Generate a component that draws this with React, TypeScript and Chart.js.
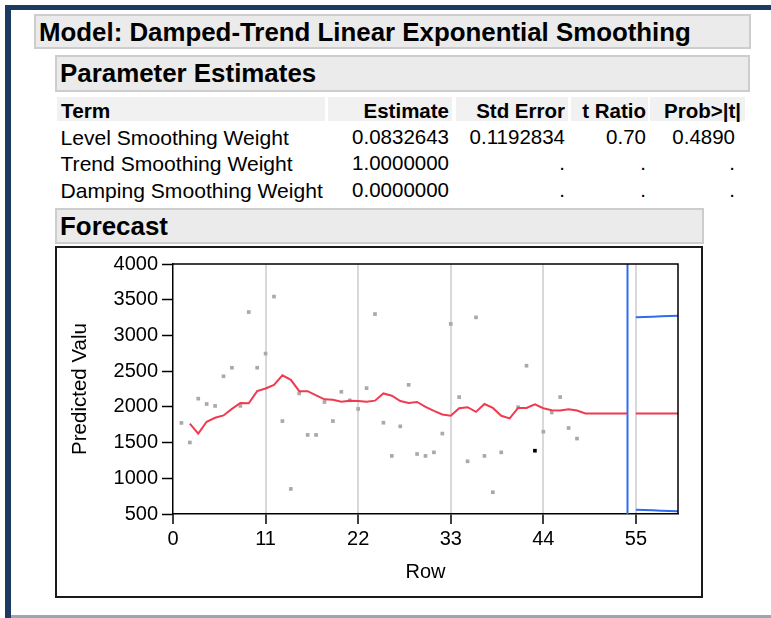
import React, { useEffect, useRef } from 'react';
import { Chart, registerables } from 'chart.js';

Chart.register(...registerables);

const FONT = '"Liberation Sans", Arial, Helvetica, sans-serif';

// ---- data ----
const modelTitle = 'Model: Damped-Trend Linear Exponential Smoothing';
const tableHeaders = ['Term', 'Estimate', 'Std Error', 't Ratio', 'Prob>|t|'];
const termNames = ['Level Smoothing Weight', 'Trend Smoothing Weight', 'Damping Smoothing Weight'];
const estimates = ['0.0832643', '1.0000000', '0.0000000'];
const stdErrors = ['0.1192834', '.', '.'];
const tRatios = ['0.70', '.', '.'];
const probs = ['0.4890', '.', '.'];

const observedStartRow = 1;
const observed: (number | null)[] = [
  1775, 1501, 2115, 2040, 2013, 2428, 2548, 2013, 3327, 2548,
  2746, 3544, 1801, 851, 2188, 1607, 1607, 2068, 1801, 2211,
  2091, 1971, 2262, 3299, 1778, 1313, 1727, 2308, 1340, 1313,
  1363, 1626, 3161, 2137, 1238, 3253, 1313, 805, 1363, null,
  1995, 2576, 1386, 1653, 1921, 2137, 1704, 1556,
];
const highlightedRow = 43;

const predictedStartRow = 2;
const predicted = [
  1764, 1626, 1791, 1847, 1880, 1971, 2054, 2050, 2220, 2257,
  2308, 2442, 2378, 2220, 2220, 2161, 2105, 2100, 2073, 2087,
  2082, 2073, 2087, 2188, 2156, 2082, 2054, 2068, 1999, 1944,
  1893, 1875, 1981, 1995, 1930, 2040, 1985, 1875, 1838, 1985,
  1985, 2036, 1981, 1953, 1949, 1967, 1949, 1907, 1907, 1907,
  1907, 1907, 1907,
];

const forecastOriginRow = 54;
const forecastStartRow = 55;
const forecast = [1907, 1907, 1907, 1907, 1907, 1907];
const upperLimit = [3255, 3259, 3263, 3267, 3271, 3275];
const lowerLimit = [559, 555, 551, 547, 543, 539];

const xTicks = [0, 11, 22, 33, 44, 55];
const yTicks = [500, 1000, 1500, 2000, 2500, 3000, 3500, 4000];
const xMin = 0;
const xMax = 60;
const yMin = 500;
const yMax = 4000;

const RED = '#ef3a50';
const BLUE = '#2f6cf0';
const GREY_PT = '#a9a9a9';

function toPoints(start: number, values: (number | null)[]) {
  return values
    .map((v, i) => ({ x: start + i, y: v }))
    .filter((p) => p.y !== null) as { x: number; y: number }[];
}

const framePlugin = {
  id: 'frame',
  afterDatasetsDraw(chart: any) {
    const { ctx, chartArea } = chart;
    ctx.save();
    ctx.strokeStyle = '#000';
    ctx.lineWidth = 1.5;
    ctx.beginPath();
    ctx.moveTo(chartArea.left, chartArea.top);
    ctx.lineTo(chartArea.right, chartArea.top);
    ctx.lineTo(chartArea.right, chartArea.bottom);
    ctx.stroke();
    ctx.restore();
  },
};

function ForecastChart() {
  const ref = useRef<HTMLCanvasElement>(null);
  useEffect(() => {
    const canvas = ref.current;
    if (!canvas) return;
    const chart = new Chart(canvas, {
      type: 'scatter',
      data: {
        datasets: [
          {
            label: 'Predicted',
            data: toPoints(predictedStartRow, predicted),
            showLine: true,
            borderColor: RED,
            borderWidth: 2,
            pointRadius: 0,
            tension: 0,
          },
          {
            label: 'Forecast',
            data: toPoints(forecastStartRow, forecast),
            showLine: true,
            borderColor: RED,
            borderWidth: 2,
            pointRadius: 0,
          },
          {
            label: 'Upper',
            data: toPoints(forecastStartRow, upperLimit),
            showLine: true,
            borderColor: BLUE,
            borderWidth: 2,
            pointRadius: 0,
          },
          {
            label: 'Lower',
            data: toPoints(forecastStartRow, lowerLimit),
            showLine: true,
            borderColor: BLUE,
            borderWidth: 2,
            pointRadius: 0,
          },
          {
            label: 'Origin',
            data: [
              { x: forecastOriginRow, y: yMin },
              { x: forecastOriginRow, y: yMax },
            ],
            showLine: true,
            borderColor: BLUE,
            borderWidth: 2,
            pointRadius: 0,
          },
          {
            label: 'Actual',
            data: toPoints(observedStartRow, observed),
            showLine: false,
            pointStyle: 'rect',
            pointRadius: 2.6,
            borderWidth: 0,
            backgroundColor: (c: any) => (c.raw && c.raw.x === highlightedRow ? '#000' : GREY_PT),
            borderColor: (c: any) => (c.raw && c.raw.x === highlightedRow ? '#000' : GREY_PT),
          },
        ],
      },
      options: {
        animation: false,
        responsive: true,
        maintainAspectRatio: false,
        layout: { padding: { left: 0, top: 13, right: 23, bottom: 0 } },
        plugins: {
          legend: { display: false },
          tooltip: { enabled: false },
        },
        scales: {
          x: {
            type: 'linear',
            min: xMin,
            max: xMax,
            afterBuildTicks: (s: any) => {
              s.ticks = xTicks.map((v) => ({ value: v }));
            },
            afterFit: (s: any) => {
              s.height = 82;
            },
            grid: {
              color: (c: any) => (c.tick && c.tick.value === 0 ? 'rgba(0,0,0,0)' : '#d9d9d9'),
              lineWidth: 2,
              tickColor: '#000',
              tickLength: 10,
              tickWidth: 1.5,
            },
            border: { color: '#000', width: 1.5 },
            ticks: {
              color: '#000',
              font: { family: FONT, size: 20 },
              padding: 3,
              maxRotation: 0,
              autoSkip: false,
              callback: (v: any) => String(v),
            },
            title: {
              display: true,
              text: 'Row',
              color: '#000',
              font: { family: FONT, size: 20 },
              padding: { top: 0, bottom: 12 },
            },
          },
          y: {
            type: 'linear',
            min: yMin,
            max: yMax,
            afterBuildTicks: (s: any) => {
              s.ticks = yTicks.map((v) => ({ value: v }));
            },
            afterFit: (s: any) => {
              s.width = 116;
            },
            grid: {
              drawOnChartArea: false,
              color: '#000',
              tickColor: '#000',
              tickLength: 11,
              tickWidth: 1.5,
            },
            border: { color: '#000', width: 1.5 },
            ticks: {
              color: '#000',
              font: { family: FONT, size: 20 },
              padding: 4,
              autoSkip: false,
              callback: (v: any) => String(v),
            },
            title: {
              display: true,
              text: 'Predicted Valu',
              color: '#000',
              font: { family: FONT, size: 20.5 },
              padding: { top: 11, bottom: 0 },
            },
          },
        },
      } as any,
      plugins: [framePlugin],
    });
    return () => chart.destroy();
  }, []);
  return (
    <div style={{ position: 'absolute', left: 57, top: 248, width: 644, height: 348 }}>
      <canvas ref={ref} />
    </div>
  );
}

function Txt(props: {
  text: string;
  left?: number;
  right?: number;
  capY: number;
  size: number;
  bold?: boolean;
}) {
  const { text, left, right, capY, size, bold } = props;
  const style: React.CSSProperties = {
    position: 'absolute',
    top: capY - 0.4885 * size,
    fontSize: size,
    lineHeight: `${size}px`,
    fontWeight: bold ? 700 : 400,
    whiteSpace: 'nowrap',
    fontFamily: FONT,
    color: '#000',
  };
  if (left !== undefined) style.left = left;
  if (right !== undefined) {
    style.right = 771 - right;
    style.textAlign = 'right';
  }
  return <div style={style}>{text}</div>;
}

function Box(props: { left: number; top: number; right: number; bottom: number; bg?: string; border?: string }) {
  const { left, top, right, bottom, bg, border } = props;
  return (
    <div
      style={{
        position: 'absolute',
        left,
        top,
        width: right - left,
        height: bottom - top,
        background: bg || 'transparent',
        border: border || 'none',
        boxSizing: 'border-box',
      }}
    />
  );
}

export default function App() {
  const headCells: [number, number][] = [
    [57, 325],
    [328, 452],
    [456, 568],
    [571, 648],
    [650, 745],
  ];
  const headerRight = [0, 449, 565, 646, 741];
  const valueRight = [0, 449, 565, 646, 735];
  const rowCapY = [137, 163.4, 190];
  const columns = [estimates, stdErrors, tRatios, probs];
  return (
    <div
      style={{
        position: 'absolute',
        left: 0,
        top: 0,
        width: 771,
        height: 618,
        background: '#fff',
        overflow: 'hidden',
        fontFamily: FONT,
      }}
    >
      {/* outer frame */}
      <Box left={5} top={5} right={771} bottom={10} bg="#1d3a60" />
      <Box left={5} top={5} right={11} bottom={618} bg="#1d3a60" />
      <Box left={11} top={615} right={771} bottom={618} bg="#9ba6b5" />

      {/* model title */}
      <Box left={34} top={14} right={751} bottom={49} bg="#ebebeb" border="2px solid #cdcdcd" />
      <Txt text={modelTitle} left={39} capY={32.5} size={25.85} bold />

      {/* parameter estimates */}
      <Box left={55} top={55} right={750} bottom={92} bg="#ebebeb" border="2px solid #cdcdcd" />
      <Txt text="Parameter Estimates" left={60} capY={73.3} size={25.9} bold />

      {headCells.map(([l, r], i) => (
        <Box key={'hc' + i} left={l} top={97} right={r} bottom={121} bg="#f1f1f1" />
      ))}
      {tableHeaders.map((h, i) =>
        i === 0 ? (
          <Txt key={'h' + i} text={h} left={61} capY={110.8} size={20.8} bold />
        ) : (
          <Txt key={'h' + i} text={h} right={headerRight[i]} capY={110.8} size={20.5} bold />
        )
      )}
      {termNames.map((t, r) => (
        <React.Fragment key={'r' + r}>
          <Txt text={t} left={60.5} capY={rowCapY[r]} size={21.1} />
          {columns.map((col, c) => (
            <Txt key={'c' + c} text={col[r]} right={valueRight[c + 1]} capY={rowCapY[r]} size={20.5} />
          ))}
        </React.Fragment>
      ))}

      {/* forecast */}
      <Box left={55} top={208} right={704} bottom={244} bg="#ebebeb" border="2px solid #cdcdcd" />
      <Txt text="Forecast" left={60} capY={226.7} size={25.9} bold />

      <Box left={55} top={246} right={703} bottom={598} border="2px solid #1a1a1a" />
      <ForecastChart />
    </div>
  );
}
